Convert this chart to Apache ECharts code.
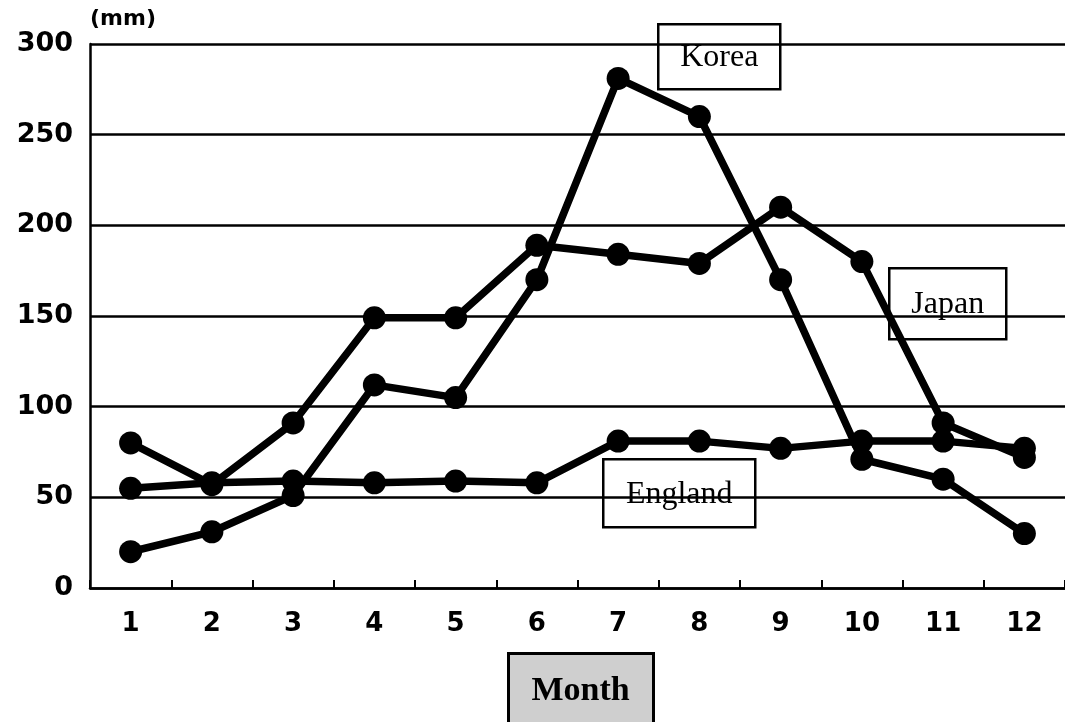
<!DOCTYPE html>
<html>
<head>
<meta charset="utf-8">
<script src="https://cdn.jsdelivr.net/npm/echarts@6/dist/echarts.min.js"></script>
<style>
  html, body { margin: 0; padding: 0; background: #ffffff; }
  #chart { width: 1065px; height: 722px; }
</style>
</head>
<body>
<div id="chart"></div>
<script>
// Monthly rainfall (mm)
const months = ['1', '2', '3', '4', '5', '6', '7', '8', '9', '10', '11', '12'];
const japan   = [80, 57, 91, 149, 149, 189, 184, 179, 210, 180, 91, 72];
const england = [55, 58, 59, 58, 59, 58, 81, 81, 77, 81, 81, 77];
const korea   = [20, 31, 51, 112, 105, 170, 281, 260, 170, 71, 60, 30];
const yTicks  = { min: 0, max: 300, step: 50 };

const numFont = '"DejaVu Sans", sans-serif';
const serifFont = '"Liberation Serif", "DejaVu Serif", serif';

function lineSeries(name, values) {
  return {
    name: name,
    type: 'line',
    data: values,
    symbol: 'circle',
    symbolSize: 23,
    lineStyle: { color: '#000', width: 7.5 },
    itemStyle: { color: '#000' },
    z: 5,
    animation: false
  };
}

// white label box with a black frame
function tagBox(text, left, top, w, h, size) {
  return {
    type: 'group',
    left: left, top: top, z: 100,
    children: [
      { type: 'rect', shape: { x: 0, y: 0, width: w, height: h },
        style: { fill: '#fff', stroke: '#000', lineWidth: 2.5 } },
      { type: 'text', x: w / 2, y: h / 2 + 1,
        style: { text: text, fill: '#000', font: size + 'px ' + serifFont,
                 align: 'center', verticalAlign: 'middle' } }
    ]
  };
}

const chart = echarts.init(document.getElementById('chart'), null, { renderer: 'canvas' });
chart.setOption({
  animation: false,
  backgroundColor: '#fff',
  grid: { left: 90, top: 44, bottom: 134, width: 985 },
  xAxis: {
    type: 'category',
    data: months,
    boundaryGap: true,
    axisLine: { lineStyle: { color: '#000', width: 2.5 } },
    axisTick: { show: true, inside: true, length: 8, lineStyle: { color: '#000', width: 2 } },
    axisLabel: { color: '#000', fontFamily: numFont, fontWeight: 'bold', fontSize: 26, margin: 23 }
  },
  yAxis: {
    type: 'value',
    min: yTicks.min, max: yTicks.max, interval: yTicks.step,
    axisLine: { show: true, lineStyle: { color: '#000', width: 2.5 } },
    axisTick: { show: false },
    splitLine: { lineStyle: { color: '#000', width: 2.5 } },
    axisLabel: { color: '#000', fontFamily: numFont, fontWeight: 'bold', fontSize: 27, margin: 17 }
  },
  series: [
    lineSeries('Japan', japan),
    lineSeries('England', england),
    lineSeries('Korea', korea)
  ],
  graphic: [
    { type: 'text', left: 90, top: 8, z: 100,
      style: { text: '(mm)', fill: '#000', font: 'bold 22px ' + numFont } },
    tagBox('Korea', 657, 23, 122, 65, 32),
    tagBox('Japan', 888, 267, 117, 71, 32),
    tagBox('England', 602, 458, 152, 68, 32),
    {
      type: 'group', left: 507, top: 652, z: 100,
      children: [
        { type: 'rect', shape: { x: 0, y: 0, width: 145, height: 72 },
          style: { fill: '#cfcfcf', stroke: '#000', lineWidth: 3 } },
        { type: 'text', x: 72, y: 38,
          style: { text: 'Month', fill: '#000', font: 'bold 34px ' + serifFont,
                   align: 'center', verticalAlign: 'middle' } }
      ]
    }
  ]
});
</script>
</body>
</html>
